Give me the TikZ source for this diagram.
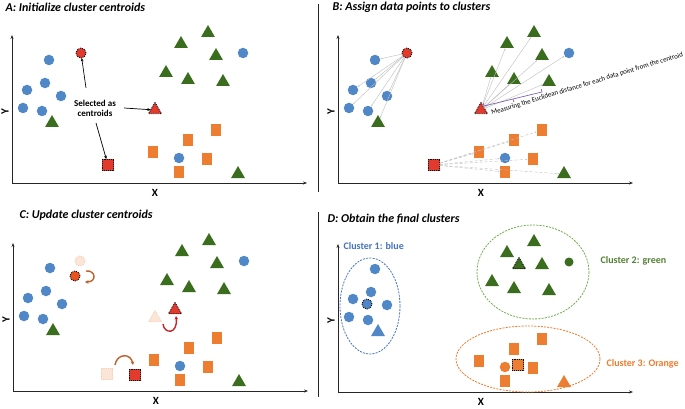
\documentclass[tikz,border=0pt]{standalone}
\usepackage{fontspec}
\setmainfont{Carlito}
\usetikzlibrary{shapes.geometric,arrows.meta}
\definecolor{cblue}{HTML}{4F87C7}
\definecolor{cgreen}{HTML}{3B6D1E}
\definecolor{corange}{HTML}{ED7D31}
\definecolor{cred}{HTML}{E23B2E}
\definecolor{cred2}{HTML}{E8531F}
\definecolor{cfade}{HTML}{FBE5D6}
\definecolor{cfadeline}{HTML}{F2D2BC}
\definecolor{cbrown}{HTML}{C0602A}
\definecolor{darr}{HTML}{C62828}
\definecolor{lblue}{HTML}{4472C4}
\definecolor{lgreen}{HTML}{548235}
\definecolor{egreen}{HTML}{70AD47}
\definecolor{cpurple}{HTML}{8064B4}
\definecolor{lgray}{HTML}{BFBFBF}
\tikzset{
  pt/.style={inner sep=0pt, outer sep=0pt},
  bc/.style={pt, circle, fill=cblue, minimum size=10.5pt},
  gt/.style={pt, regular polygon, regular polygon sides=3, fill=cgreen, minimum size=16pt},
  os/.style={pt, rectangle, fill=corange, minimum width=10.5pt, minimum height=12pt},
  cen/.style={draw=black, densely dotted, line width=0.9pt},
  ccirc/.style={pt, circle, minimum size=10pt, cen},
  ctri/.style={pt, regular polygon, regular polygon sides=3, minimum size=15pt, cen},
  csq/.style={pt, rectangle, minimum size=11.5pt, cen},
  faded/.style={fill=cfade, draw=cfadeline, densely dotted, line width=0.9pt},
  axis/.style={line width=1pt, draw=black!85, -{Stealth[length=4pt,width=3pt]}},
  axlab/.style={font=\bfseries\fontsize{11}{12}\selectfont},
  ptitle/.style={anchor=west, font=\bfseries\itshape\fontsize{12}{14}\selectfont},
  divline/.style={line width=1pt, draw=black!85},
  seltext/.style={align=center, font=\bfseries\fontsize{9}{10.5}\selectfont},
  selarr/.style={line width=0.7pt, -{Stealth[length=3.5pt,width=2.8pt]}},
  dl/.style={draw=lgray, line width=0.4pt, -{Stealth[length=1.6pt,width=1.4pt]}, shorten >=0.5pt},
  dld/.style={dl, densely dashed},
  cluslab/.style={anchor=west, font=\bfseries\fontsize{10}{12}\selectfont},
  clus/.style={line width=0.8pt, dash pattern=on 2pt off 1.2pt},
  carr/.style={line width=1.4pt, -{Stealth[length=3.5pt,width=3.5pt]}},
}
\newcommand\basepts[1]{%
  \node[bc] (#1b1) at (49,60) {};
  \node[bc] (#1b2) at (45,83) {};
  \node[bc] (#1b3) at (27,90) {};
  \node[bc] (#1b4) at (61,96) {};
  \node[bc] (#1b5) at (23,108) {};
  \node[bc] (#1b6) at (42,111) {};
  \node[bc] (#1b7) at (179,158) {};
  \node[bc] (#1b8) at (243,53) {};
  \node[gt] (#1g1) at (52,123) {};
  \node[gt] (#1g2) at (181,44) {};
  \node[gt] (#1g3) at (208,33) {};
  \node[gt] (#1g4) at (216,56) {};
  \node[gt] (#1g5) at (166,73) {};
  \node[gt] (#1g6) at (188,80) {};
  \node[gt] (#1g7) at (223,82) {};
  \node[gt] (#1g8) at (238,174) {};
  \node[os] (#1o1) at (216,130) {};
  \node[os] (#1o2) at (188,140) {};
  \node[os] (#1o3) at (153,152) {};
  \node[os] (#1o4) at (207,159) {};
  \node[os] (#1o5) at (179,172) {};
}
\newcommand\axespanel[1]{%
  \draw[axis] (12,183) -- (12,35);
  \draw[axis] (12,183) -- (307,183);
  \node[axlab, rotate=90] (#1ylab) at (5,112) {Y};
  \node[axlab] (#1xlab) at (155,193) {X};
}
\begin{document}
\begin{tikzpicture}[x=1pt,y=-1pt]
\useasboundingbox (0,0) rectangle (685,409);
\fill[white] (0,0) rectangle (685,409);

% dividers
\draw[divline] (318,4) -- (318,192);
\draw[divline] (318,212) -- (318,397);

% titles
\node[ptitle] (tA) at (2,7.5) {A: Initialize cluster centroids};
\node[ptitle] (tB) at (329,7.5) {B: Assign data points to clusters};
\node[ptitle] (tC) at (16,215) {C: Update cluster centroids};
\node[ptitle] (tD) at (324,219) {D: Obtain the final clusters};

% ---------------- Panel A
\begin{scope}
  \axespanel{A}
  \basepts{A}
  \node[ccirc, fill=cred] (Arc) at (81,53) {};
  \node[ctri, fill=cred] (Art) at (155,110) {};
  \node[csq, fill=cred] (Ars) at (108,165) {};
  \node[seltext] (Asel) at (95,108.5) {Selected as\\centroids};
  \coordinate (As1) at (86,88);
  \coordinate (As2) at (124,108);
  \coordinate (As3) at (96,123);
  \draw[selarr] (As1) -- (Arc);
  \draw[selarr] (As2) -- (Art);
  \draw[selarr] (As3) -- (Ars);
\end{scope}

% ---------------- Panel B
\begin{scope}[shift={(326,0)}]
  \axespanel{B}
  \basepts{B}
  \node[ccirc, fill=cred] (Brc) at (81,53) {};
  \node[ctri, fill=cred] (Brt) at (155,110) {};
  \node[csq, fill=cred] (Brs) at (108,165) {};
  \foreach \t in {b1,b2,b3,b4,b5,b6,g1} \draw[dl] (Brc) -- (B\t);
  \foreach \t in {g2,g3,g4,g5,g6,g7,b8} \draw[dl] (Brt) -- (B\t);
  \foreach \t in {o1,o2,o3,o4,o5,b7,g8} \draw[dld] (Brs) -- (B\t);
  \coordinate (Bk1) at (157.3,103.1);
  \coordinate (Bk2) at (158,106);
  \coordinate (Bk3) at (216,92);
  \coordinate (Bk4) at (215.3,89.1);
  \coordinate (Bm1) at (187,99);
  \coordinate (Bm2) at (187.7,101.9);
  \draw[cpurple, line width=0.7pt] (Bk1) -- (Bk2) -- (Bk3) -- (Bk4);
  \draw[cpurple, line width=0.7pt] (Bm1) -- (Bm2);
  \node[anchor=base west, rotate=17, inner sep=0pt, font=\fontsize{6.9}{7}\selectfont] (Btext) at (166,115)
     {Measuring the Euclidean distance for each data point from the centroid};
\end{scope}

% ---------------- Panel C
\begin{scope}[shift={(1,208)}]
  \axespanel{C}
  \basepts{C}
  \node[ccirc, faded] (Cfc) at (79,53) {};
  \node[ctri, faded] (Cft) at (154,110) {};
  \node[csq, faded] (Cfs) at (106,166) {};
  \node[ccirc, fill=cred2] (Cnc) at (74,68) {};
  \node[ctri, fill=cred] (Cnt) at (174,102) {};
  \node[csq, fill=cred] (Cns) at (134,167) {};
  \coordinate (Ca1) at (85,63);
  \coordinate (Ca2) at (84,74);
  \draw[carr, cbrown] (Ca1) .. controls (95,62) and (96,74) .. (Ca2);
  \coordinate (Ct1) at (162,116);
  \coordinate (Ct2) at (175,108);
  \draw[carr, darr] (Ct1) .. controls (163,126) and (177,127) .. (Ct2);
  \coordinate (Cs1) at (114,157);
  \coordinate (Cs2) at (132,157);
  \draw[carr, cbrown] (Cs1) .. controls (116,145) and (130,145) .. (Cs2);
\end{scope}

% ---------------- Panel D
\begin{scope}[shift={(326,209)}]
  \axespanel{D}
  \draw[clus, lblue] (44,97) ellipse [x radius=30, y radius=48];
  \draw[clus, egreen] (207,63) ellipse [x radius=56, y radius=47];
  \draw[clus, corange] (202,150) ellipse [x radius=72, y radius=33];
  \node[bc] (Db1) at (49,60) {};
  \node[bc] (Db2) at (45,83) {};
  \node[bc] (Db3) at (27,90) {};
  \node[bc] (Db4) at (61,96) {};
  \node[bc] (Db5) at (23,108) {};
  \node[bc] (Db6) at (42,111) {};
  \node[gt, fill=cblue] (Dbt) at (52,123) {};
  \node[ccirc, fill=cblue] (Dbc) at (41,95) {};
  \node[gt] (Dg2) at (181,44) {};
  \node[gt] (Dg3) at (208,33) {};
  \node[gt] (Dg4) at (216,56) {};
  \node[gt] (Dg5) at (166,73) {};
  \node[gt] (Dg6) at (188,80) {};
  \node[gt] (Dg7) at (223,82) {};
  \node[bc, fill=cgreen, minimum size=9pt] (Dgc) at (243,53) {};
  \node[ctri, fill=cgreen] (Dgcen) at (193,56) {};
  \node[os] (Do1) at (216,130) {};
  \node[os] (Do2) at (188,140) {};
  \node[os] (Do3) at (153,152) {};
  \node[os] (Do4) at (207,159) {};
  \node[os] (Do5) at (179,172) {};
  \node[bc, fill=corange] (Doc) at (179,158) {};
  \node[gt, fill=corange] (Dot) at (238,174) {};
  \node[csq, fill=corange] (Docen) at (192,156) {};
  \node[cluslab, text=lblue] (L1) at (14,37) {Cluster 1: blue};
  \node[cluslab, text=lgreen] (L2) at (271,52) {Cluster 2: green};
  \node[cluslab, text=corange] (L3) at (277,155) {Cluster 3: Orange};
\end{scope}
\end{tikzpicture}
\end{document}
